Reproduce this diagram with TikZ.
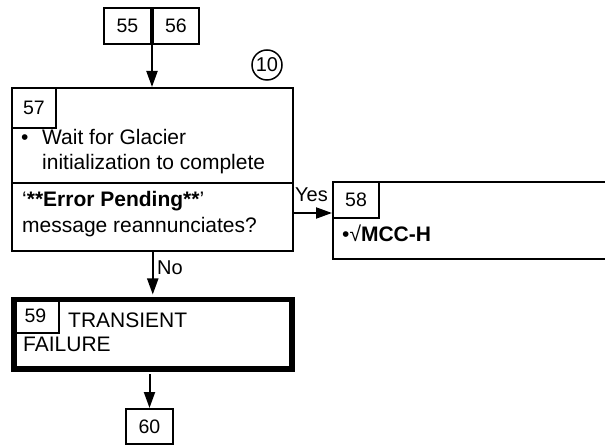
\documentclass[tikz,border=0pt]{standalone}
\usepackage{fontspec}
\setmainfont{Liberation Sans}
\usetikzlibrary{arrows.meta,positioning}

\begin{document}
\begin{tikzpicture}[x=1pt,y=-1pt,
    every node/.style={font=\fontsize{21}{24}\selectfont,inner sep=0pt},
    numbox/.style={draw,line width=2pt,minimum width=46pt,minimum height=36pt,font=\fontsize{19.5}{22}\selectfont},
    stepbox/.style={draw,line width=2.2pt,anchor=north west},
    txt/.style={anchor=base west},
    lbl/.style={anchor=base west,font=\fontsize{20}{22}\selectfont},
    arr/.style={-{Triangle[length=16pt,width=11pt]},line width=2pt}
]
\useasboundingbox (0,0) rectangle (605,446);
\clip (0,0) rectangle (605,446);

% entry boxes
\node[numbox,anchor=north west,minimum width=47pt] (n55) at (103,7) {55};
\node[numbox,anchor=west] (n56) at (n55.east) {56};

% step 57
\node[stepbox,minimum width=281pt,minimum height=163pt] (s57) at (11,87) {};
\node[numbox,anchor=north west,minimum width=44pt,minimum height=40pt] (n57) at (s57.north west) {57};
\node[draw,circle,line width=1.5pt,minimum size=30pt,font=\fontsize{20}{22}\selectfont] (c10) at (267,65) {10};
\node[txt] (b57) at (21,145) {•};
\node[txt] (t57a) at (42,145) {Wait for Glacier};
\node[txt] (t57b) at (42,170) {initialization to complete};
\draw[line width=2.2pt] (s57.west |- 0,183) -- (s57.east |- 0,183);
\node[txt] (q57a) at (22,207) {‘\textbf{**Error Pending**}’};
\node[txt] (q57b) at (22,233) {message reannunciates?};

% step 58
\node[stepbox,minimum width=300pt,minimum height=77pt] (s58) at (332,181) {};
\node[numbox,anchor=north west] (n58) at (s58.north west) {58};
\node[txt] (t58) at (342,242) {•√\textbf{MCC-H}};

% step 59
\node[stepbox,line width=5.5pt,minimum width=278pt,minimum height=69pt] (s59) at (11,297) {};
\node[numbox,anchor=north west,minimum width=47pt,minimum height=35pt] (n59) at (s59.north west) {59};
\node[txt] (t59a) at (68,327) {TRANSIENT};
\node[txt] (t59b) at (23,352) {FAILURE};

% exit box
\node[numbox,anchor=north west,minimum width=47pt,minimum height=35pt] (n60) at (125,408) {60};

\coordinate (yesl) at (s57.east |- 0,213);
\draw[arr] (n55.south east) -- (n55.south east |- s57.north);
\draw[arr] (yesl) -- (s58.west |- yesl);
\node[lbl] (yes) at (295,202) {Yes};
\draw[arr,shorten >=2.5pt] (s57.south -| s59.north) -- (s59.north);
\node[lbl] (no) at (157,275) {No};
\draw[arr,shorten <=2.5pt] (s59.south -| n60.north) -- (n60.north);
\end{tikzpicture}
\end{document}
